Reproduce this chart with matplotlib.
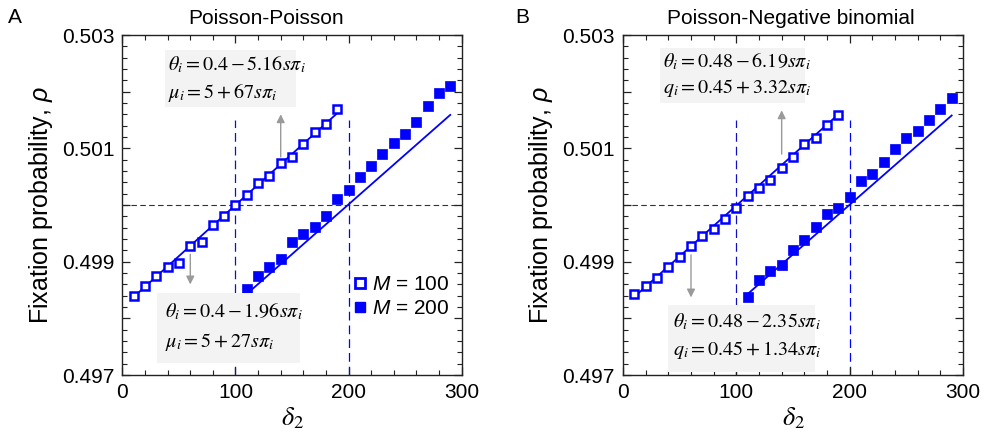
import matplotlib
matplotlib.use('Agg')
import matplotlib.pyplot as plt
from matplotlib.patches import Rectangle
from matplotlib.lines import Line2D
from matplotlib.ticker import MultipleLocator

plt.rcParams['font.family'] = ['Liberation Sans', 'DejaVu Sans']
plt.rcParams['mathtext.fontset'] = 'custom'
plt.rcParams['mathtext.it'] = 'Liberation Sans:italic'
plt.rcParams['mathtext.rm'] = 'Liberation Sans'

BLUE = '#0000ff'
GRAY = '#9a9a9a'

# data
delta_m100 = [10, 20, 30, 40, 50, 60, 70, 80, 90, 100, 110, 120, 130, 140, 150, 160, 170, 180, 190]
delta_m200 = [110, 120, 130, 140, 150, 160, 170, 180, 190, 200, 210, 220, 230, 240, 250, 260, 270, 280, 290]

pp_rho_m100 = [0.49840, 0.49857, 0.49875, 0.49891, 0.49897, 0.49928, 0.49935, 0.49964, 0.49981, 0.50000,
               0.50018, 0.50039, 0.50051, 0.50074, 0.50084, 0.50108, 0.50129, 0.50143, 0.50169]
pp_rho_m200 = [0.49851, 0.49874, 0.49890, 0.49904, 0.49934, 0.49949, 0.49962, 0.49981, 0.50011, 0.50027,
               0.50050, 0.50069, 0.50090, 0.50109, 0.50125, 0.50147, 0.50175, 0.50198, 0.50210]
pnb_rho_m100 = [0.49843, 0.49857, 0.49872, 0.49891, 0.49908, 0.49928, 0.49946, 0.49958, 0.49975, 0.49995,
                0.50016, 0.50030, 0.50044, 0.50066, 0.50084, 0.50108, 0.50118, 0.50141, 0.50158]
pnb_rho_m200 = [0.49838, 0.49868, 0.49884, 0.49895, 0.49921, 0.49938, 0.49961, 0.49984, 0.49994, 0.50015,
                0.50042, 0.50054, 0.50076, 0.50098, 0.50119, 0.50131, 0.50150, 0.50169, 0.50189]

# theory lines (end points)
fit_x_m100 = [10, 190]
fit_x_m200 = [110, 290]
pp_fit_m100 = [0.49838, 0.50162]
pp_fit_m200 = [0.49843, 0.50159]
pnb_fit_m100 = [0.49838, 0.50160]
pnb_fit_m200 = [0.49843, 0.50158]

titles = ['Poisson-Poisson', 'Poisson-Negative binomial']
panel_tags = ['A', 'B']
eq_top = [[r'$\theta_i = 0.4 - 5.16 s\pi_i$', r'$\mu_i = 5 + 67 s\pi_i$'],
          [r'$\theta_i = 0.48 - 6.19 s\pi_i$', r'$q_i = 0.45 + 3.32 s\pi_i$']]
eq_bot = [[r'$\theta_i = 0.4 - 1.96 s\pi_i$', r'$\mu_i = 5 + 27 s\pi_i$'],
          [r'$\theta_i = 0.48 - 2.35 s\pi_i$', r'$q_i = 0.45 + 1.34 s\pi_i$']]
arrow_up = [(140, 0.50080, 0.50165), (140, 0.50085, 0.50172)]
arrow_down = [(60, 0.49918, 0.49855), (60, 0.49917, 0.49832)]

fig = plt.figure(figsize=(9.87, 4.40), dpi=100)
axA = fig.add_axes([0.1241, 0.1477, 0.3435, 0.7727])
axB = fig.add_axes([0.6312, 0.1477, 0.3445, 0.7727])

series = [(pp_rho_m100, pp_rho_m200, pp_fit_m100, pp_fit_m200),
          (pnb_rho_m100, pnb_rho_m200, pnb_fit_m100, pnb_fit_m200)]

# box geometry in axes fraction: x0, x1, y0, y1, text x, line1 y, line2 y
box_top = [(0.125, 0.513, 0.788, 0.956, 0.133, 0.912, 0.829),
           (0.109, 0.535, 0.800, 0.962, 0.117, 0.921, 0.844)]
box_bot = [(0.101, 0.524, 0.035, 0.241, 0.125, 0.185, 0.097),
           (0.132, 0.565, 0.009, 0.206, 0.146, 0.156, 0.074)]
title_x = [0.423, 0.495]

for k, ax in enumerate([axA, axB]):
    r100, r200, f100, f200 = series[k]
    ax.set_xlim(0, 300)
    ax.set_ylim(0.497, 0.503)

    # reference lines
    ax.axhline(0.5, color='#333333', lw=0.8, dashes=(5, 3), zorder=1)
    ax.plot([100, 100], [0.497, 0.5015], color='#1010c0', lw=0.9, dashes=(7, 4), zorder=1)
    ax.plot([200, 200], [0.497, 0.5015], color=BLUE, lw=0.9, dashes=(7, 4), zorder=1)

    ax.plot(fit_x_m100, f100, color=BLUE, lw=1.3, zorder=2)
    ax.plot(fit_x_m200, f200, color=BLUE, lw=1.3, zorder=2)
    ax.plot(delta_m100, r100, ls='none', marker='s', ms=5.2, mfc='white', mec=BLUE, mew=1.8, zorder=3)
    ax.plot(delta_m200, r200, ls='none', marker='s', ms=7, mfc=BLUE, mec=BLUE, mew=0.5, zorder=3)

    # arrows
    xa, y0, y1 = arrow_up[k]
    ax.annotate('', xy=(xa, y1), xytext=(xa, y0),
                arrowprops=dict(arrowstyle='-|>', color=GRAY, lw=1.0, mutation_scale=12), zorder=4)
    xa, y0, y1 = arrow_down[k]
    ax.annotate('', xy=(xa, y1), xytext=(xa, y0),
                arrowprops=dict(arrowstyle='-|>', color=GRAY, lw=1.0, mutation_scale=12), zorder=4)

    # equation boxes
    for geo, eqs in [(box_top[k], eq_top[k]), (box_bot[k], eq_bot[k])]:
        x0, x1, yb, yt, tx, l1, l2 = geo
        ax.add_patch(Rectangle((x0, yb), x1 - x0, yt - yb, transform=ax.transAxes,
                               facecolor='#f3f3f3', edgecolor='none', zorder=5))
        ax.text(tx, l1, eqs[0], transform=ax.transAxes, fontsize=14.5, va='center', ha='left',
                math_fontfamily='stix', zorder=6)
        ax.text(tx, l2, eqs[1], transform=ax.transAxes, fontsize=14.5, va='center', ha='left',
                math_fontfamily='stix', zorder=6)

    # ticks
    ax.xaxis.set_major_locator(MultipleLocator(100))
    ax.xaxis.set_minor_locator(MultipleLocator(20))
    ax.yaxis.set_minor_locator(MultipleLocator(0.0002))
    ax.set_yticks([0.497, 0.498, 0.499, 0.500, 0.501, 0.502, 0.503])
    ax.set_yticklabels(['0.497', '', '0.499', '', '0.501', '', '0.503'])
    ax.tick_params(which='both', direction='in', top=True, right=True, colors='#222222',
                   labelsize=15, labelcolor='black')
    ax.tick_params(which='major', length=6, width=0.9, pad=6)
    ax.tick_params(which='minor', length=3.5, width=0.8)
    for s in ax.spines.values():
        s.set_linewidth(1.0)
        s.set_color('#222222')

    ax.set_xlabel(r'$\delta_2$', fontsize=19, math_fontfamily='stix', labelpad=2)
    ax.set_ylabel(r'Fixation probability, $\rho$', fontsize=18, labelpad=5)
    ax.set_title(titles[k], fontsize=15, x=title_x[k], pad=8)

handles = [Line2D([], [], ls='none', marker='s', ms=7, mfc='white', mec=BLUE, mew=2.0),
           Line2D([], [], ls='none', marker='s', ms=7, mfc=BLUE, mec=BLUE)]
axA.legend(handles, [r'$M$ = 100', r'$M$ = 200'], loc='lower right', bbox_to_anchor=(1.0, 0.13),
           frameon=False, fontsize=15, handlelength=0.5, handletextpad=0.3, labelspacing=0.25,
           borderaxespad=0.2)

fig.text(0.008, 0.96, panel_tags[0], fontsize=15, va='center')
fig.text(0.522, 0.96, panel_tags[1], fontsize=15, va='center')

fig.savefig('out.png', dpi=100)
